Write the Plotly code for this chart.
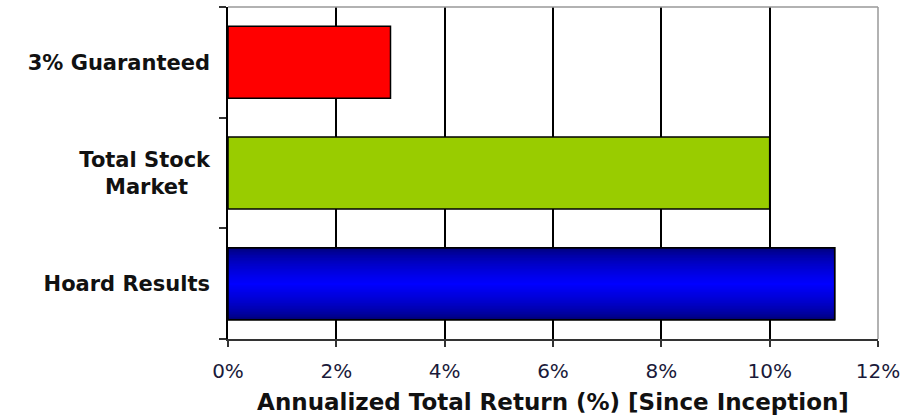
import plotly.graph_objects as go

categories = ["3% Guaranteed", "Total Stock Market", "Hoard Results"]
tick_text = ["3% Guaranteed", "Total Stock<br>Market\u00a0\u00a0\u00a0", "Hoard Results"]
values = [3.0, 10.0, 11.2]
colors = ["#ff0000", "#99cc00", "#00006e"]
x_ticks = [0, 2, 4, 6, 8, 10, 12]
x_tick_labels = ["0%", "2%", "4%", "6%", "8%", "10%", "12%"]

BAR_W = 0.65
fig = go.Figure()

# base bars
fig.add_trace(go.Bar(
    y=categories, x=values, orientation="h", width=BAR_W,
    marker=dict(color=colors, line=dict(color="black", width=1.5)),
    hoverinfo="skip",
))

# vertical gradient on the Hoard bar: nested bars, dark at edges, bright blue center
n = 24
for i in range(1, n):
    f = i / (n - 1)
    w = BAR_W * (1 - f) + 0.01
    b = int(110 + (255 - 110) * (f ** 0.6))
    fig.add_trace(go.Bar(
        y=[categories[2]], x=[values[2]], orientation="h", width=w,
        marker=dict(color=f"rgb(0,0,{b})", line=dict(width=0)),
        hoverinfo="skip",
    ))

# outline on top
fig.add_trace(go.Bar(
    y=[categories[2]], x=[values[2]], orientation="h", width=BAR_W,
    marker=dict(color="rgba(0,0,0,0)", line=dict(color="black", width=1.5)),
    hoverinfo="skip",
))

fig.update_layout(
    width=916, height=417,
    margin=dict(l=228, r=38, t=7, b=78),
    paper_bgcolor="white", plot_bgcolor="white",
    barmode="overlay", showlegend=False,
    font=dict(family="DejaVu Sans", color="#111111"),
)
fig.update_xaxes(
    range=[0, 12], tickvals=x_ticks, ticktext=x_tick_labels,
    showgrid=True, gridcolor="black", gridwidth=1.5,
    showline=True, linecolor="#333333", linewidth=1.5,
    ticks="outside", ticklen=6, tickcolor="#333333", tickwidth=1.5,
    tickfont=dict(size=20, color="#1a1a3a"), ticklabelstandoff=7,
    zeroline=False,
    title=dict(text="<b>Annualized Total Return (%) [Since Inception]</b>",
               font=dict(size=23, color="#111111"), standoff=12),
)
fig.update_yaxes(
    categoryorder="array", categoryarray=categories, autorange="reversed",
    tickvals=categories, ticktext=[f"<b>{t}</b>" for t in tick_text],
    tickson="boundaries",
    showline=True, linecolor="black", linewidth=1.5,
    ticks="outside", ticklen=7, tickcolor="#333333", tickwidth=1.5,
    tickfont=dict(size=21, color="#111111"), ticklabelstandoff=12,
    showgrid=False, zeroline=False,
)
# gray frame on top and right
fig.add_shape(type="line", xref="paper", yref="paper", x0=0, x1=1, y0=1, y1=1,
              line=dict(color="#999999", width=1.5), layer="above")
fig.add_shape(type="line", xref="paper", yref="paper", x0=1, x1=1, y0=0, y1=1,
              line=dict(color="#999999", width=1.5), layer="above")

fig.write_html("out.html")
